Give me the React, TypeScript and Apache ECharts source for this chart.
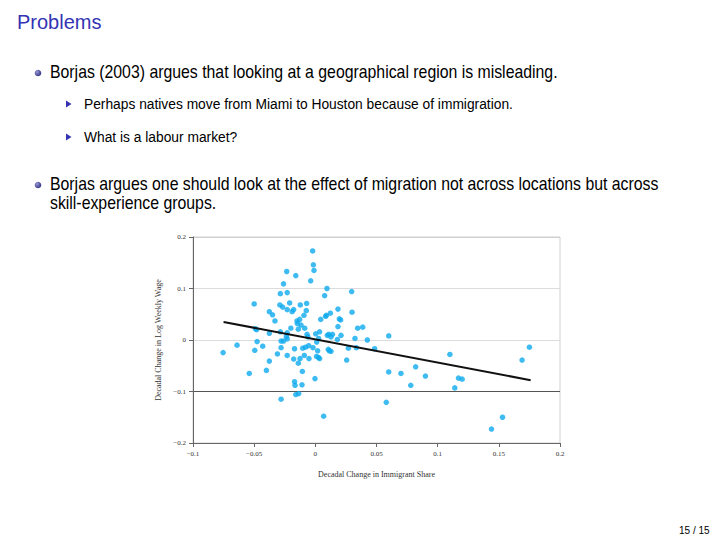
import React, { useEffect, useRef } from "react";
import * as echarts from "echarts";

const immigrantShare: number[] = [
  -0.0754, -0.064, -0.054, -0.05, -0.049, -0.048, -0.0495, -0.0476, -0.043, -0.04,
  -0.0376, -0.0376, -0.0376, -0.035, -0.033, -0.031, -0.029, -0.0286, -0.0286, -0.028,
  -0.028, -0.028, -0.0267, -0.026, -0.026, -0.0234, -0.023, -0.0237, -0.023, -0.023,
  -0.023, -0.023, -0.021, -0.02, -0.019, -0.0177, -0.0177, -0.017, -0.017, -0.0166,
  -0.016, -0.016, -0.015, -0.0147, -0.0139, -0.0136, -0.0139, -0.0128, -0.0125, -0.0123,
  -0.0117, -0.0109, -0.0106, -0.0103, -0.0093, -0.009, -0.0087, -0.008, -0.0074, -0.0071,
  -0.0068, -0.006, -0.0054, -0.0052, -0.0038, -0.0022, -0.0016, -0.0011, -0.0019, -0.0003,
  0.0003, 0.0011, 0.0019, 0.001, 0.0027, 0.0027, 0.0035, 0.0035, 0.0044, 0.0068,
  0.0076, 0.0084, 0.009, 0.0095, 0.0098, 0.0106, 0.011, 0.0114, 0.0123, 0.0128,
  0.0128, 0.014, 0.018, 0.0185, 0.0185, 0.0196, 0.0207, 0.021, 0.0256, 0.027,
  0.0297, 0.03, 0.0324, 0.0335, 0.0346, 0.0387, 0.0425, 0.0485, 0.058, 0.06,
  0.06, 0.07, 0.078, 0.082, 0.09, 0.11, 0.114, 0.117, 0.12, 0.144,
  0.153, 0.169, 0.175,
];

const logWeeklyWage: number[] = [
  -0.0245, -0.01, -0.065, 0.07, 0.022, 0.02, -0.02, -0.003, -0.012, -0.059,
  0.055, 0.013, -0.041, 0.049, 0.037, -0.027, 0.068, 0.09, 0.016, -0.002,
  -0.015, -0.115, 0.064, -0.002, 0.109, 0.133, 0.014, 0.007, 0.092, 0.059,
  0.002, -0.03, 0.072, 0.023, 0.055, 0.059, -0.037, -0.017, -0.081, -0.088,
  0.125, -0.106, 0.037, 0.032, 0.021, -0.104, -0.045, 0.04, -0.036, 0.068,
  0.029, -0.087, -0.061, -0.016, 0.048, -0.03, 0.023, -0.014, 0.057, 0.071,
  0.011, 0.006, -0.011, -0.036, 0.115, 0.173, 0.146, 0.135, -0.015, -0.075,
  0.012, -0.004, -0.021, -0.032, -0.034, 0.003, 0.016, -0.036, 0.04, -0.148,
  0.086, 0.046, 0.048, 0.1, 0.009, -0.018, 0.011, -0.021, 0.052, 0.006,
  -0.022, 0.011, 0.001, 0.026, 0.06, 0.041, 0.039, 0.009, -0.039, -0.016,
  0.094, 0.054, 0.003, -0.015, 0.023, 0.025, 0.0, -0.017, -0.121, 0.008,
  -0.062, -0.065, -0.088, -0.052, -0.07, -0.028, -0.093, -0.074, -0.076, -0.173,
  -0.15, -0.039, -0.014,
];

const fitX: number[] = [-0.075, 0.176];
const fitY: number[] = [0.035, -0.078];

const xTickValues: number[] = [-0.1, -0.05, 0, 0.05, 0.1, 0.15, 0.2];
const xTickLabels: string[] = ["\u22120.1", "\u22120.05", "0", "0.05", "0.1", "0.15", "0.2"];
const yTickValues: number[] = [-0.2, -0.1, 0, 0.1, 0.2];
const yTickLabels: string[] = ["\u22120.2", "\u22120.1", "0", "0.1", "0.2"];

const xAxisName = "Decadal Change in Immigrant Share";
const yAxisName = "Decadal Change in Log Weekly Wage";

const slideTitle = "Problems";
const bullet1 = "Borjas (2003) argues that looking at a geographical region is misleading.";
const sub1 = "Perhaps natives move from Miami to Houston because of immigration.";
const sub2 = "What is a labour market?";
const bullet2a = "Borjas argues one should look at the effect of migration not across locations but across";
const bullet2b = "skill-experience groups.";
const pageNum = "15 / 15";

function labelFor(values: number[], labels: string[], v: number): string {
  for (let i = 0; i < values.length; i++) {
    if (Math.abs(values[i] - v) < 1e-6) return labels[i];
  }
  return "";
}

const STRUCT = "#3333b3";
const SANS = "'Liberation Sans', Arial, sans-serif";
const SERIF = "'Liberation Serif', 'Times New Roman', serif";

export default function App() {
  const ref = useRef<HTMLDivElement>(null);
  useEffect(() => {
    if (!ref.current) return;
    const chart = echarts.init(ref.current, undefined, { renderer: "svg" });
    const points = immigrantShare.map((x, i) => [x, logWeeklyWage[i]]);
    const fit = fitX.map((x, i) => [x, fitY[i]]);
    const textStyle = (size: number, color = "#000") => ({
      fontFamily: SANS,
      fontSize: size,
      fill: color,
      verticalAlign: "middle" as const,
    });
    const ball = (cx: number, cy: number) => ({
      type: "circle",
      shape: { cx, cy, r: 3.3 },
      style: {
        fill: new echarts.graphic.RadialGradient(0.35, 0.35, 0.7, [
          { offset: 0, color: "#9a9ad8" },
          { offset: 1, color: "#2f2f80" },
        ]),
      },
    });
    const tri = (x: number, y: number) => ({
      type: "polygon",
      shape: { points: [[x, y - 3.5], [x, y + 3.5], [x + 5.5, y]] },
      style: { fill: STRUCT },
    });
    const mainScale = 0.88;
    const subScale = 0.89;
    chart.setOption({
      animation: false,
      backgroundColor: "#fff",
      grid: {
        left: 193,
        right: 160,
        top: 237,
        bottom: 97,
        show: true,
        borderColor: "#d0d0d0",
        borderWidth: 1,
        backgroundColor: "transparent",
      },
      xAxis: {
        type: "value",
        min: -0.1,
        max: 0.2,
        interval: 0.05,
        name: xAxisName,
        nameLocation: "middle",
        nameGap: 27,
        nameTextStyle: { fontFamily: SERIF, fontSize: 8, color: "#333" },
        axisLine: { show: true, onZero: false, lineStyle: { color: "#666", width: 1 } },
        axisTick: { show: true, inside: false, length: 4, lineStyle: { color: "#666" } },
        axisLabel: {
          fontFamily: SERIF,
          fontSize: 7,
          color: "#333",
          margin: 7,
          formatter: (v: number) => labelFor(xTickValues, xTickLabels, v),
        },
        splitLine: { show: false },
      },
      yAxis: {
        type: "value",
        min: -0.2,
        max: 0.2,
        interval: 0.1,
        name: yAxisName,
        nameLocation: "middle",
        nameGap: 31,
        nameRotate: 90,
        nameTextStyle: { fontFamily: SERIF, fontSize: 8, color: "#333" },
        axisLine: { show: true, onZero: false, lineStyle: { color: "#666", width: 1 } },
        axisTick: { show: true, inside: false, length: 4, lineStyle: { color: "#666" } },
        axisLabel: {
          fontFamily: SERIF,
          fontSize: 7,
          color: "#333",
          margin: 7,
          formatter: (v: number) => labelFor(yTickValues, yTickLabels, v),
        },
        splitLine: {
          show: true,
          lineStyle: { color: ["#666", "#555", "#dcdcdc", "#dcdcdc", "#d0d0d0"], width: 1 },
        },
      },
      series: [
        {
          type: "scatter",
          data: points,
          symbol: "circle",
          symbolSize: 5.5,
          itemStyle: { color: "#0eaaee" },
          silent: true,
        },
        {
          type: "line",
          data: fit,
          symbol: "none",
          lineStyle: { color: "#111", width: 2 },
          silent: true,
        },
      ],
      graphic: [
        { type: "text", left: 17, top: 12, style: { text: slideTitle, fontFamily: SANS, fontSize: 20, fill: STRUCT } },
        ball(38, 73),
        { type: "text", x: 50, y: 72, scaleX: mainScale, style: { ...textStyle(18), text: bullet1 } },
        tri(66, 104),
        { type: "text", x: 84, y: 104, scaleX: subScale, style: { ...textStyle(15.5), text: sub1 } },
        tri(66, 137),
        { type: "text", x: 84, y: 137, scaleX: subScale, style: { ...textStyle(15.5), text: sub2 } },
        ball(38, 185),
        { type: "text", x: 50, y: 184, scaleX: mainScale, style: { ...textStyle(18), text: bullet2a } },
        { type: "text", x: 50, y: 203, scaleX: mainScale, style: { ...textStyle(18), text: bullet2b } },
        { type: "text", x: 679, y: 530, style: { ...textStyle(10), text: pageNum } },
      ],
    });
    return () => chart.dispose();
  }, []);
  return (
    <div
      ref={ref}
      style={{ position: "fixed", left: 0, top: 0, width: 720, height: 540 }}
    />
  );
}
